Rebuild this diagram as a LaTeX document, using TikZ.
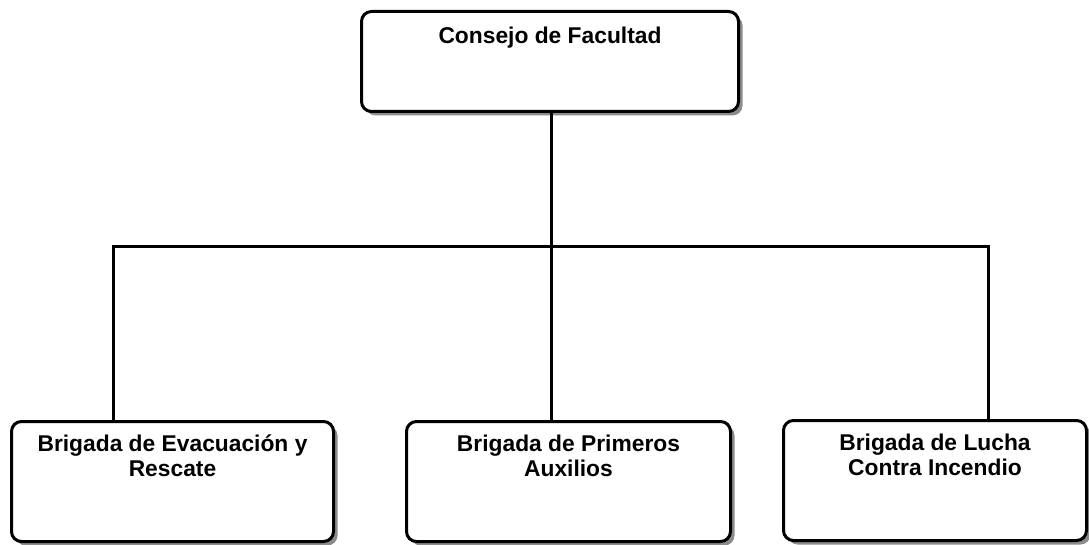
\documentclass[tikz,border=0pt]{standalone}
\usepackage{fontspec}
\setmainfont{Liberation Sans}
\usetikzlibrary{shadows}
\begin{document}
\begin{tikzpicture}[x=1pt,y=-1pt,
  box/.style={draw=black, line width=3pt, rounded corners=10pt, fill=white,
    inner sep=0pt, drop shadow={shadow xshift=4pt, shadow yshift=-4pt, shadow scale=1, fill=black, opacity=0.45}},
  lbl/.style={font=\bfseries\fontsize{22.8}{25}\selectfont, align=center, inner sep=0pt},
  conn/.style={line width=3pt}]
\useasboundingbox (0,0) rectangle (1089,545);
\fill[white] (0,0) rectangle (1089,545);
% boxes
\node[box, minimum width=377pt, minimum height=100pt] (top) at (550,61.5) {};
\node[box, minimum width=322pt, minimum height=120pt] (b1) at (172.5,481.5) {};
\node[box, minimum width=324pt, minimum height=120pt] (b2) at (568.5,481.5) {};
\node[box, minimum width=303pt, minimum height=120pt] (b3) at (935,480.5) {};
% texts
\node[lbl, anchor=base] (ttop) at ([yshift=-33.5pt]top.north) {Consejo de Facultad};
\node[lbl, anchor=base] (t1) at ([yshift=-56.5pt]b1.north) {Brigada de Evacuación y\\Rescate};
\node[lbl, anchor=base] (t2) at ([yshift=-56.5pt]b2.north) {Brigada de Primeros\\Auxilios};
\node[lbl, anchor=base] (t3) at ([yshift=-56.5pt]b3.north) {Brigada de Lucha\\Contra Incendio};
% connectors
\coordinate (hL) at (113,247);
\coordinate (hM) at (551,247);
\coordinate (hR) at (988,247);
\draw[conn] (top.south -| hM) -- (hM);
\draw[conn, line cap=rect] (hL) -- (hR);
\draw[conn] (hL) -- (hL |- b1.north);
\draw[conn] (hM) -- (hM |- b2.north);
\draw[conn] (hR) -- (hR |- b3.north);
\end{tikzpicture}
\end{document}
